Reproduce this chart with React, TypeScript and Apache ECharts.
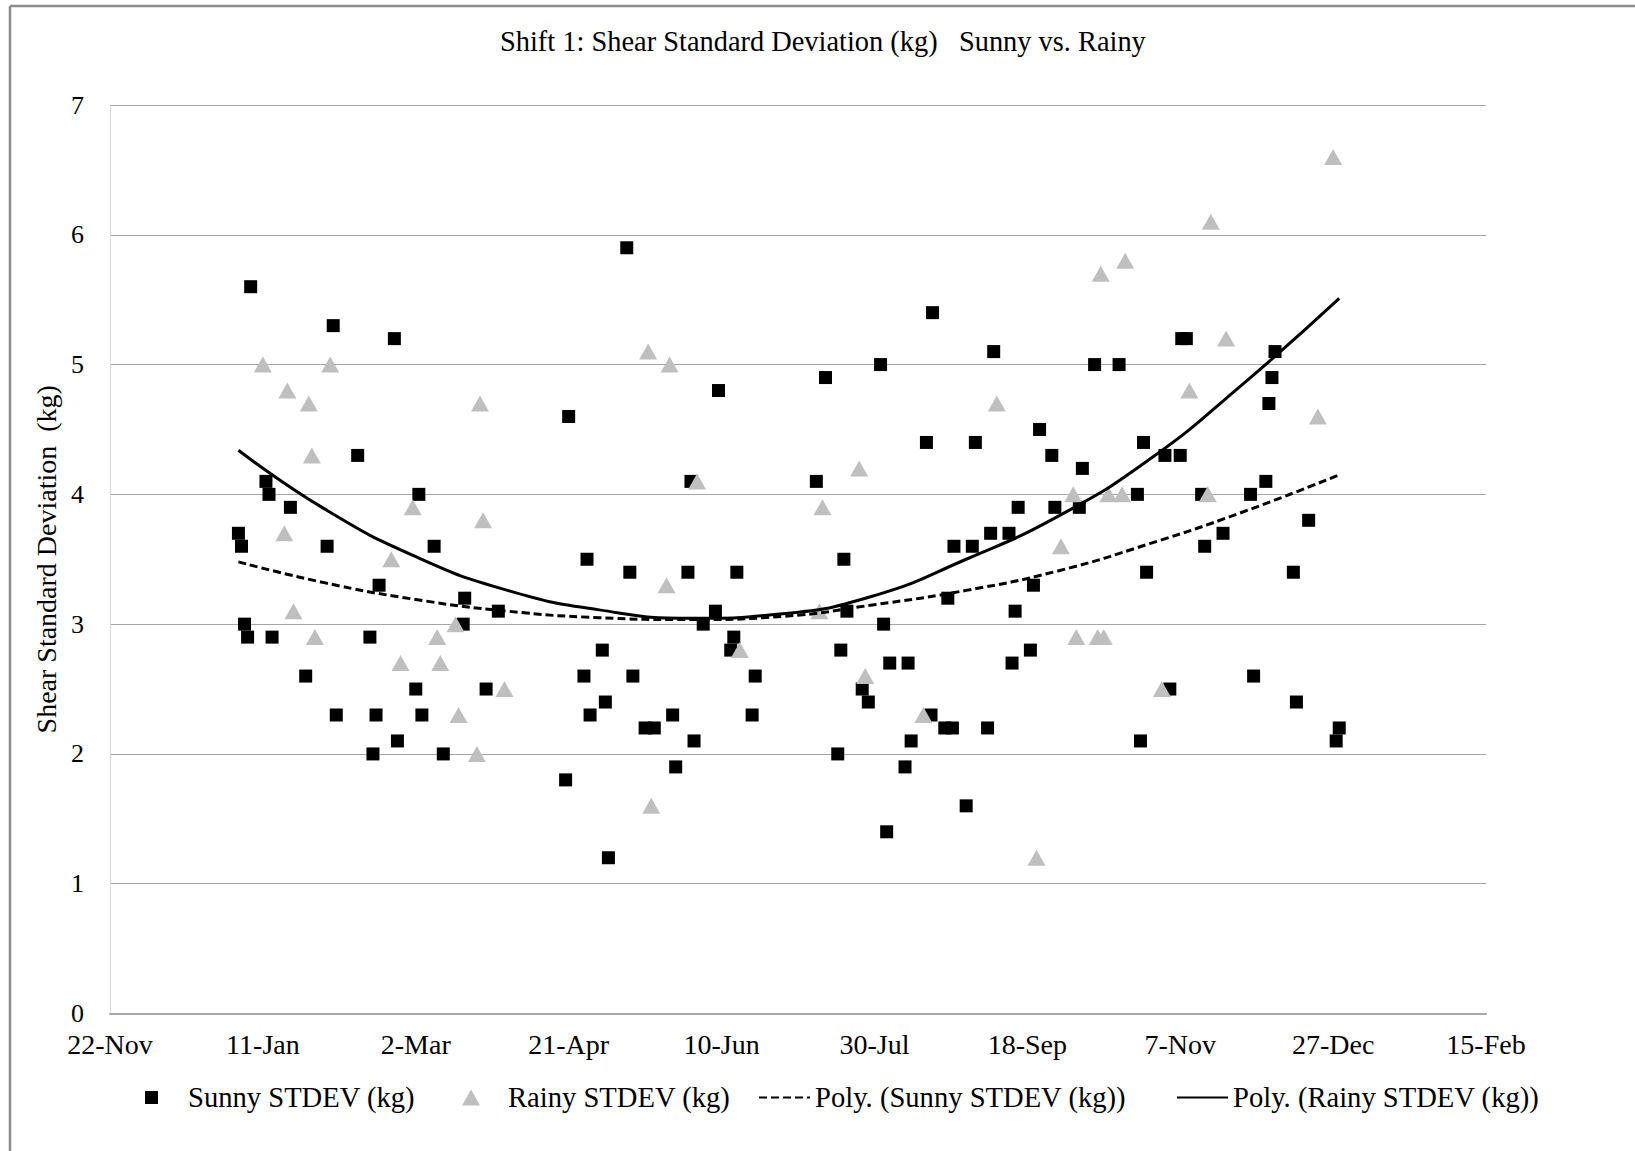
import { useEffect, useRef } from "react";
import * as echarts from "echarts";

// X values are day offsets counted from 22-Nov; ticks every 50 days.
const xTickLabels = [
  "22-Nov", "11-Jan", "2-Mar", "21-Apr", "10-Jun",
  "30-Jul", "18-Sep", "7-Nov", "27-Dec", "15-Feb",
];
const X_STEP = 50;

const sunnyDays = [
  42, 43, 44, 45, 46, 51, 52, 53, 59, 64, 71, 73, 74, 81, 85, 86, 87, 88, 93, 94,
  100, 101, 102, 106, 109, 115.5, 116, 123, 127, 149, 150, 155, 156, 157, 161, 162, 163, 169, 170, 171,
  175, 178, 184, 185, 189, 190, 191, 194, 198, 199, 203, 204, 205, 210, 211, 231, 234, 238, 239, 240,
  241, 246, 248, 252, 253, 254, 255, 260, 261, 262, 267, 268.5, 269, 273, 274, 275.5, 276, 280, 282, 283,
  287, 288, 289, 294, 295, 296, 297, 301, 302, 304, 308, 309, 317, 318, 322, 330, 336, 337, 338, 339,
  345, 346.6, 350, 350.5, 352, 357, 358, 364, 373, 374, 378, 379, 380, 381, 387, 388, 392, 401, 402,
];
const sunnyStdev = [
  3.7, 3.6, 3.0, 2.9, 5.6, 4.1, 4.0, 2.9, 3.9, 2.6, 3.6, 5.3, 2.3, 4.3, 2.9, 2.0, 2.3, 3.3, 5.2, 2.1,
  2.5, 4.0, 2.3, 3.6, 2.0, 3.0, 3.2, 2.5, 3.1, 1.8, 4.6, 2.6, 3.5, 2.3, 2.8, 2.4, 1.2, 5.9, 3.4, 2.6,
  2.2, 2.2, 2.3, 1.9, 3.4, 4.1, 2.1, 3.0, 3.1, 4.8, 2.8, 2.9, 3.4, 2.3, 2.6, 4.1, 4.9, 2.0, 2.8, 3.5,
  3.1, 2.5, 2.4, 5.0, 3.0, 1.4, 2.7, 1.9, 2.7, 2.1, 4.4, 2.3, 5.4, 2.2, 3.2, 2.2, 3.6, 1.6, 3.6, 4.4,
  2.2, 3.7, 5.1, 3.7, 2.7, 3.1, 3.9, 2.8, 3.3, 4.5, 4.3, 3.9, 3.9, 4.2, 5.0, 5.0, 4.0, 2.1, 4.4, 3.4,
  4.3, 2.5, 4.3, 5.2, 5.2, 4.0, 3.6, 3.7, 4.0, 2.6, 4.1, 4.7, 4.9, 5.1, 3.4, 2.4, 3.8, 2.1, 2.2,
];

const rainyDays = [
  50, 57, 58, 60, 65, 66, 67, 72, 92, 95, 99, 107, 108, 113, 114, 120, 121, 122, 129, 176,
  177, 182, 183, 192, 206, 232, 233, 245, 247, 266, 290, 303, 311, 315, 316, 323, 324, 325, 326.5, 331,
  332, 344, 353, 359, 360, 365, 395, 400,
];
const rainyStdev = [
  5.0, 3.7, 4.8, 3.1, 4.7, 4.3, 2.9, 5.0, 3.5, 2.7, 3.9, 2.9, 2.7, 3.0, 2.3, 2.0, 4.7, 3.8, 2.5, 5.1,
  1.6, 3.3, 5.0, 4.1, 2.8, 3.1, 3.9, 4.2, 2.6, 2.3, 4.7, 1.2, 3.6, 4.0, 2.9, 2.9, 5.7, 2.9, 4.0, 4.0,
  5.8, 2.5, 4.8, 4.0, 6.1, 5.2, 4.6, 6.6,
];

// Order-2 polynomial trend lines, sampled along the data range.
const trendDays = [42, 70, 100, 130, 160, 190, 220, 250, 280, 310, 340, 370, 402];
const sunnyTrend = [3.48, 3.32, 3.19, 3.10, 3.05, 3.035, 3.06, 3.15, 3.26, 3.41, 3.62, 3.86, 4.15];
const rainyTrend = [4.34, 3.89, 3.52, 3.26, 3.11, 3.045, 3.08, 3.22, 3.50, 3.83, 4.27, 4.84, 5.51];

const SUNNY = "Sunny STDEV (kg)";
const RAINY = "Rainy STDEV (kg)";
const SUNNY_FIT = "Poly. (Sunny STDEV (kg))";
const RAINY_FIT = "Poly. (Rainy STDEV (kg))";

const FONT = "'Liberation Serif', 'Times New Roman', serif";

const pairs = (xs: number[], ys: number[]) => xs.map((x, i) => [x, ys[i]]);

const legendText = { fontFamily: FONT, fontSize: 28.6, color: "#000" };
const LEGEND_TOP = 1083;

const option = {
  animation: false,
  backgroundColor: "#fff",
  title: {
    text: "Shift 1: Shear Standard Deviation (kg)   Sunny vs. Rainy",
    left: 495,
    top: 22,
    textStyle: { fontFamily: FONT, fontSize: 28.4, fontWeight: "normal", color: "#000" },
  },
  grid: { left: 110, right: 149, top: 105, bottom: 137.5, containLabel: false },
  xAxis: {
    type: "value",
    min: 0,
    max: 450,
    interval: X_STEP,
    axisLine: { show: true, lineStyle: { color: "#a6a6a6", width: 2 } },
    axisTick: { show: false },
    splitLine: { show: false },
    axisLabel: {
      margin: 17,
      fontFamily: FONT,
      fontSize: 28,
      color: "#000",
      formatter: (v: number) => xTickLabels[Math.round(v / X_STEP)] ?? "",
    },
  },
  yAxis: {
    type: "value",
    min: 0,
    max: 7,
    interval: 1,
    name: "Shear Standard Deviation  (kg)",
    nameLocation: "middle",
    nameGap: 49,
    nameTextStyle: { fontFamily: FONT, fontSize: 28, color: "#000" },
    axisLine: { show: true, lineStyle: { color: "#d9d9d9", width: 1 } },
    axisTick: { show: false },
    splitLine: { show: true, lineStyle: { color: "#a6a6a6", width: 1 } },
    axisLabel: { margin: 26, fontFamily: FONT, fontSize: 26, color: "#000" },
  },
  legend: [
    {
      data: [SUNNY],
      left: 145,
      top: LEGEND_TOP,
      padding: 0,
      itemWidth: 13,
      itemHeight: 13,
      selectedMode: false,
      textStyle: { ...legendText, padding: [0, 0, 0, 25] },
    },
    {
      data: [RAINY],
      left: 462,
      top: LEGEND_TOP,
      padding: 0,
      itemWidth: 18,
      itemHeight: 16,
      selectedMode: false,
      textStyle: { ...legendText, padding: [0, 0, 0, 23] },
    },
    {
      data: [SUNNY_FIT],
      left: 758,
      top: LEGEND_TOP,
      padding: 0,
      itemWidth: 51,
      itemHeight: 14,
      selectedMode: false,
      itemStyle: { opacity: 0 },
      textStyle: legendText,
    },
    {
      data: [RAINY_FIT],
      left: 1176,
      top: LEGEND_TOP,
      padding: 0,
      itemWidth: 51,
      itemHeight: 14,
      selectedMode: false,
      itemStyle: { opacity: 0 },
      textStyle: legendText,
    },
  ],
  graphic: [
    { type: "line", shape: { x1: 10, y1: 6, x2: 1635, y2: 6 }, style: { stroke: "#8c8c8c", lineWidth: 2.5 } },
    { type: "line", shape: { x1: 10, y1: 6, x2: 10, y2: 1151 }, style: { stroke: "#8c8c8c", lineWidth: 2.5 } },
  ],
  series: [
    {
      name: SUNNY,
      type: "scatter",
      symbol: "rect",
      symbolSize: 13,
      itemStyle: { color: "#000", opacity: 1 },
      data: pairs(sunnyDays, sunnyStdev),
      z: 2,
    },
    {
      name: RAINY,
      type: "scatter",
      symbol: "triangle",
      symbolSize: [18, 16],
      itemStyle: { color: "#bfbfbf", opacity: 1 },
      data: pairs(rainyDays, rainyStdev),
      z: 3,
    },
    {
      name: SUNNY_FIT,
      type: "line",
      smooth: true,
      symbol: "none",
      showSymbol: false,
      lineStyle: { color: "#000", width: 3, type: [8, 4] },
      itemStyle: { color: "#000" },
      data: pairs(trendDays, sunnyTrend),
      z: 4,
    },
    {
      name: RAINY_FIT,
      type: "line",
      smooth: true,
      symbol: "none",
      showSymbol: false,
      lineStyle: { color: "#000", width: 3, type: "solid" },
      itemStyle: { color: "#000" },
      data: pairs(trendDays, rainyTrend),
      z: 4,
    },
  ],
};

export default function App() {
  const ref = useRef<HTMLDivElement>(null);
  useEffect(() => {
    if (!ref.current) return;
    const chart = echarts.init(ref.current, undefined, { renderer: "svg" });
    chart.setOption(option as any);
    return () => chart.dispose();
  }, []);
  return (
    <div
      ref={ref}
      style={{ position: "fixed", left: 0, top: 0, width: 1635, height: 1151, background: "#fff" }}
    />
  );
}
